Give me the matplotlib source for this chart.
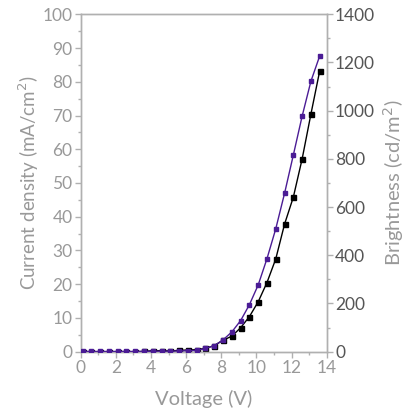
import numpy as np
import matplotlib
matplotlib.use('Agg')
import matplotlib.pyplot as plt
from matplotlib.ticker import MultipleLocator

plt.rcParams['font.family'] = ['Lato', 'DejaVu Sans']

# voltage steps (V)
voltage = [0.1, 0.6, 1.1, 1.6, 2.1, 2.6, 3.1, 3.6, 4.1, 4.6, 5.1, 5.6, 6.1, 6.6,
           7.1, 7.6, 8.1, 8.6, 9.1, 9.6, 10.1, 10.6, 11.1, 11.6, 12.1, 12.6, 13.1, 13.6]
# current density (mA/cm2)
current = [0.0, 0.0, 0.0, 0.0, 0.0, 0.0, 0.0, 0.1, 0.3, 0.3, 0.2, 0.4, 0.5, 0.6,
           1.0, 1.8, 3.4, 4.6, 7.1, 10.4, 14.8, 20.5, 27.5, 37.8, 45.8, 57.1, 70.4, 83.2]
# brightness (cd/m2)
brightness = [1, 1, 1, 1, 1, 1, 1, 1, 2, 2, 2, 3, 4, 5,
              14, 25, 49, 82, 129, 195, 277, 386, 510, 657, 816, 977, 1122, 1227]

gray = '#999999'
dark = '#555555'
purple = '#4b1c95'

fig = plt.figure(figsize=(4.12, 4.08), dpi=100)
ax = fig.add_axes([0.196, 0.138, 0.597, 0.827])
ax2 = ax.twinx()

ax.plot(voltage, current, color='black', marker='s', ms=3.6, lw=1, zorder=3)
ax2.plot(voltage, brightness, color=purple, marker='s', ms=3.2, lw=1, zorder=4)

ax.set_xlim(0, 14)
ax.set_ylim(0, 100)
ax2.set_ylim(0, 1400)

ax.xaxis.set_major_locator(MultipleLocator(2))
ax.xaxis.set_minor_locator(MultipleLocator(1))
ax.yaxis.set_major_locator(MultipleLocator(10))
ax.yaxis.set_minor_locator(MultipleLocator(5))
ax2.yaxis.set_major_locator(MultipleLocator(200))
ax2.yaxis.set_minor_locator(MultipleLocator(100))

for a in (ax, ax2):
    for s in a.spines.values():
        s.set_color('#b0b0b0')
        s.set_linewidth(1)
    a.tick_params(which='major', direction='out', length=4, width=1, color='#b0b0b0',
                  labelsize=12.5, pad=2)
    a.tick_params(which='minor', direction='out', length=2, width=1, color='#b0b0b0')

ax.tick_params(axis='both', labelcolor=gray)
ax2.tick_params(axis='y', labelcolor=dark)
ax2.get_yticklabels()[0].set_color(purple)

ax.set_xlabel('Voltage (V)', color=gray, fontsize=14.5, labelpad=10)
ax.set_ylabel('Current density (mA/cm$^2$)', color=gray, fontsize=13.5, labelpad=1)
ax2.set_ylabel('Brightness (cd/m$^2$)', color=gray, fontsize=14.5, labelpad=4)

fig.savefig('out.png', dpi=100)
